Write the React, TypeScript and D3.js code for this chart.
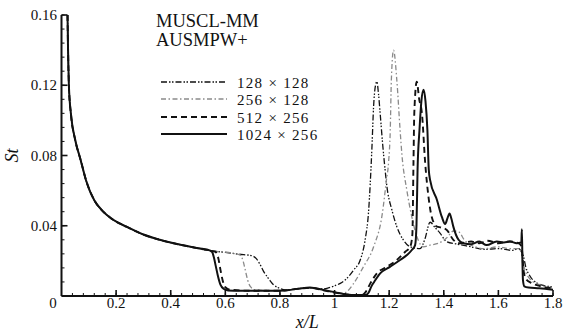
import React from "react";
import * as d3 from "d3";

const W = 568;
const H = 333;
const X0 = 61.5;
const X1 = 553;
const Y0 = 296;
const Y1 = 15;

// shared leading-edge part (all grids coincide)
const leadX = [0.022, 0.024, 0.027, 0.035, 0.05, 0.07, 0.09, 0.12, 0.15, 0.18, 0.24, 0.3, 0.36, 0.44, 0.5, 0.545];
const leadSt = [0.16, 0.14, 0.12, 0.103, 0.089, 0.0775, 0.0658, 0.0545, 0.0485, 0.0444, 0.0393, 0.035, 0.032, 0.029, 0.0272, 0.0258];

const x128 = [0.56, 0.6, 0.65, 0.7, 0.715, 0.728, 0.74, 0.753, 0.765, 0.777, 0.79, 0.801, 0.82, 0.87, 0.91, 0.95, 0.972, 1.0, 1.021, 1.045, 1.07, 1.094, 1.112, 1.125, 1.131, 1.137, 1.143, 1.15, 1.155, 1.161, 1.167, 1.177, 1.185, 1.192, 1.21, 1.228, 1.252, 1.277, 1.313, 1.33, 1.35, 1.368, 1.387, 1.41, 1.45, 1.5, 1.55, 1.6, 1.65, 1.675, 1.685, 1.692, 1.7, 1.715, 1.74, 1.77, 1.8];
const st128 = [0.0255, 0.0248, 0.0238, 0.0228, 0.021, 0.0177, 0.014, 0.011, 0.0085, 0.0063, 0.005, 0.0042, 0.0035, 0.0042, 0.0046, 0.004, 0.0044, 0.0058, 0.0072, 0.01, 0.0148, 0.0205, 0.032, 0.049, 0.065, 0.085, 0.108, 0.12, 0.122, 0.115, 0.104, 0.085, 0.072, 0.062, 0.049, 0.0395, 0.0319, 0.028, 0.027, 0.032, 0.042, 0.039, 0.0357, 0.031, 0.0295, 0.028, 0.0265, 0.027, 0.026, 0.027, 0.025, 0.0224, 0.0167, 0.0115, 0.0075, 0.0058, 0.0052];

const x256 = [0.56, 0.6, 0.64, 0.655, 0.665, 0.673, 0.682, 0.692, 0.71, 0.8, 0.87, 0.91, 0.96, 1.0, 1.03, 1.045, 1.07, 1.106, 1.143, 1.175, 1.19, 1.198, 1.204, 1.208, 1.216, 1.228, 1.24, 1.247, 1.265, 1.283, 1.301, 1.326, 1.35, 1.38, 1.41, 1.436, 1.455, 1.475, 1.5, 1.55, 1.6, 1.64, 1.675, 1.685, 1.695, 1.72, 1.75, 1.8];
const st256 = [0.0255, 0.025, 0.024, 0.0233, 0.02, 0.0148, 0.009, 0.0053, 0.0035, 0.003, 0.0042, 0.0046, 0.0032, 0.002, 0.0015, 0.0025, 0.0072, 0.0167, 0.028, 0.047, 0.066, 0.0765, 0.0945, 0.123, 0.14, 0.123, 0.0945, 0.08, 0.06, 0.045, 0.034, 0.028, 0.029, 0.03, 0.033, 0.037, 0.0365, 0.032, 0.029, 0.027, 0.028, 0.027, 0.027, 0.024, 0.016, 0.009, 0.0065, 0.0045];

const x512 = [0.555, 0.565, 0.575, 0.582, 0.59, 0.6, 0.62, 0.7, 0.8, 0.87, 0.91, 0.96, 1.0, 1.05, 1.1, 1.115, 1.131, 1.155, 1.192, 1.228, 1.259, 1.277, 1.285, 1.289, 1.292, 1.301, 1.31, 1.32, 1.332, 1.344, 1.356, 1.375, 1.39, 1.411, 1.435, 1.46, 1.5, 1.53, 1.56, 1.6, 1.64, 1.675, 1.685, 1.692, 1.7, 1.72, 1.75, 1.8];
const st512 = [0.0255, 0.025, 0.021, 0.015, 0.009, 0.005, 0.0035, 0.003, 0.003, 0.0042, 0.0046, 0.0032, 0.002, 0.0008, 0.0005, 0.0025, 0.0072, 0.0129, 0.0167, 0.0205, 0.0252, 0.028, 0.035, 0.0755, 0.104, 0.122, 0.112, 0.104, 0.0755, 0.0565, 0.045, 0.0395, 0.039, 0.0376, 0.032, 0.03, 0.031, 0.03, 0.0315, 0.03, 0.031, 0.03, 0.028, 0.0148, 0.01, 0.0075, 0.0058, 0.0044];

const x1024 = [0.552, 0.558, 0.565, 0.572, 0.582, 0.595, 0.61, 0.65, 0.75, 0.82, 0.87, 0.91, 0.96, 1.0, 1.045, 1.08, 1.115, 1.125, 1.135, 1.145, 1.167, 1.204, 1.24, 1.265, 1.283, 1.295, 1.3, 1.304, 1.311, 1.318, 1.326, 1.333, 1.34, 1.345, 1.35, 1.375, 1.393, 1.405, 1.413, 1.421, 1.428, 1.435, 1.454, 1.472, 1.5, 1.53, 1.557, 1.594, 1.62, 1.643, 1.667, 1.684, 1.686, 1.688, 1.69, 1.695, 1.71, 1.75, 1.8];
const st1024 = [0.025, 0.022, 0.017, 0.012, 0.0065, 0.004, 0.0032, 0.003, 0.003, 0.0032, 0.0042, 0.0048, 0.0034, 0.0022, 0.0008, 0.0005, 0.0006, 0.002, 0.0055, 0.008, 0.0129, 0.0167, 0.0205, 0.0233, 0.0262, 0.029, 0.04, 0.072, 0.0945, 0.111, 0.1175, 0.111, 0.0945, 0.072, 0.066, 0.0547, 0.045, 0.041, 0.044, 0.047, 0.044, 0.0395, 0.032, 0.03, 0.0295, 0.031, 0.029, 0.031, 0.0305, 0.031, 0.03, 0.0305, 0.038, 0.02, 0.009, 0.0055, 0.0048, 0.0044, 0.0035];

const seriesNames = ["128 × 128", "256 × 128", "512 × 256", "1024 × 256"];
const seriesX = [x128, x256, x512, x1024];
const seriesSt = [st128, st256, st512, st1024];
const seriesColor = ["#111", "#8a8a8a", "#111", "#111"];
const seriesWidth = [1.3, 1.3, 1.9, 2];
const seriesDash = ["6,2,1.5,1.5,1.5,2", "5,2.5,1.5,2.5", "6,4", ""];

const xTickValues = [0.2, 0.4, 0.6, 0.8, 1, 1.2, 1.4, 1.6, 1.8];
const yTickValues = [0.04, 0.08, 0.12, 0.16];
const titleLines = ["MUSCL-MM", "AUSMPW+"];

const FONT = "'Liberation Serif', 'Times New Roman', serif";
const tStyle = { fontFamily: FONT };

export default function App() {
  const x = d3.scaleLinear().domain([0, 1.8]).range([X0, X1]);
  const y = d3.scaleLinear().domain([0, 0.16]).range([Y0, Y1]);
  const line = d3
    .line<[number, number]>()
    .x((d) => x(d[0]))
    .y((d) => y(d[1]))
    .curve(d3.curveMonotoneX);

  const xMinor = d3.range(0, 1.8001, 0.04);
  const yMinor = d3.range(0, 0.1601, 0.008);

  const legendY = [82, 99, 117, 134];

  return (
    <svg
      width={W}
      height={H}
      style={{ position: "absolute", left: 0, top: 0, background: "#fff" }}
    >
      <defs>
        <clipPath id="plotclip">
          <rect x={X0} y={Y1 - 2} width={X1 - X0 + 2} height={Y0 - Y1 + 2} />
        </clipPath>
      </defs>
      <rect width={W} height={H} fill="#fff" />

      {/* curves */}
      <g clipPath="url(#plotclip)">
        {seriesNames.map((name, i) => {
          const pts: [number, number][] = leadX
            .map((v, k) => [v, leadSt[k]] as [number, number])
            .concat(seriesX[i].map((v, k) => [v, seriesSt[i][k]] as [number, number]));
          return (
            <path
              key={name}
              d={line(pts) || ""}
              fill="none"
              stroke={seriesColor[i]}
              strokeWidth={seriesWidth[i]}
              strokeDasharray={seriesDash[i]}
              strokeLinejoin="round"
            />
          );
        })}
      </g>

      {/* axes */}
      <line x1={X0} x2={X1} y1={Y0} y2={Y0} stroke="#111" strokeWidth={2} />
      <line x1={X0} x2={X0} y1={Y0} y2={Y1} stroke="#111" strokeWidth={2} />
      {xMinor.map((v) => (
        <line key={"xm" + v} x1={x(v)} x2={x(v)} y1={Y0} y2={Y0 - 3} stroke="#111" strokeWidth={1} />
      ))}
      {xTickValues.map((v) => (
        <line key={"xM" + v} x1={x(v)} x2={x(v)} y1={Y0} y2={Y0 - 6} stroke="#111" strokeWidth={1.6} />
      ))}
      {yMinor.map((v) => (
        <line key={"ym" + v} x1={X0} x2={X0 + 3} y1={y(v)} y2={y(v)} stroke="#111" strokeWidth={1} />
      ))}
      {yTickValues.map((v) => (
        <line key={"yM" + v} x1={X0} x2={X0 + 6} y1={y(v)} y2={y(v)} stroke="#111" strokeWidth={1.6} />
      ))}

      {/* tick labels */}
      {xTickValues.map((v) => (
        <text key={"xl" + v} x={x(v)} y={Y0 + 12} fontSize={15} textAnchor="middle" fill="#111" style={tStyle}>
          {d3.format("~g")(v)}
        </text>
      ))}
      <text x={X0 - 8.5} y={Y0 + 12} fontSize={15} textAnchor="middle" fill="#111" style={tStyle}>0</text>
      {yTickValues.map((v) => (
        <text key={"yl" + v} x={X0 - 4.5} y={y(v) + 5} fontSize={15} textAnchor="end" fill="#111" style={tStyle}>
          {d3.format(".2f")(v)}
        </text>
      ))}

      {/* axis titles */}
      <text x={(X0 + X1) / 2} y={328} fontSize={18} fontStyle="italic" textAnchor="middle" fill="#111" style={tStyle}>
        x/L
      </text>
      <text
        transform={`translate(18, ${(Y0 + Y1) / 2}) rotate(-90)`}
        fontSize={18}
        fontStyle="italic"
        textAnchor="middle"
        fill="#111"
        style={tStyle}
      >
        St
      </text>

      {/* legend */}
      {titleLines.map((t, i) => (
        <text key={t} x={156} y={27 + i * 18.5} fontSize={18.5} fill="#111" style={tStyle}>
          {t}
        </text>
      ))}
      {seriesNames.map((name, i) => (
        <g key={"lg" + name}>
          <line
            x1={161}
            x2={227}
            y1={legendY[i]}
            y2={legendY[i]}
            stroke={seriesColor[i]}
            strokeWidth={seriesWidth[i]}
            strokeDasharray={seriesDash[i]}
          />
          <text x={237} y={legendY[i] + 5.5} fontSize={15} letterSpacing={1.3} fill="#111" style={tStyle}>
            {name}
          </text>
        </g>
      ))}
    </svg>
  );
}
